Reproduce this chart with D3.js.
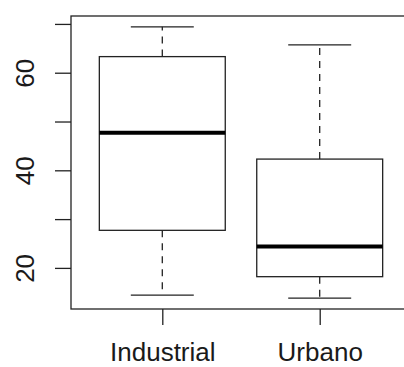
<!DOCTYPE html>
<html>
<head>
<meta charset="utf-8">
<script src="https://cdn.jsdelivr.net/npm/d3@7"></script>
<style>
  body { margin: 0; background: #fff; }
  svg { display: block; }
  text { font-family: "Liberation Sans", Arial, sans-serif; font-size: 26px; fill: #1a1a1a; }
</style>
</head>
<body>
<div id="chart"></div>
<script>
// groups and their five-number summaries
const groups = ["Industrial", "Urbano"]
const lowerWhisker = [14.4, 13.8]
const lowerQuartile = [27.7, 18.2]
const medians = [47.7, 24.4]
const upperQuartile = [63.3, 42.3]
const upperWhisker = [69.4, 65.7]
const yTicks = [20, 30, 40, 50, 60, 70]
const yLabels = [20, 40, 60]

const svgWidth = 404
const svgHeight = 367
const margin = { left: 71, top: 16, bottom: 58 }
const plotRight = 411
const height = svgHeight - margin.top - margin.bottom

const boxes = groups.map((g, i) => ({
  name: g, pos: i + 1,
  lo: lowerWhisker[i], q1: lowerQuartile[i], med: medians[i],
  q3: upperQuartile[i], hi: upperWhisker[i]
}))

// R style 4% extension of the range
let yMin = d3.min(lowerWhisker), yMax = d3.max(upperWhisker)
let ext = (yMax - yMin) * 0.04
var y = d3.scaleLinear()
  .domain([yMin - ext, yMax + ext])
  .range([height, 0])

var x = d3.scaleLinear()
  .domain([0.42, groups.length + 0.58])
  .range([0, plotRight - margin.left])

let svg = d3.select("#chart").append("svg")
  .attr("width", svgWidth)
  .attr("height", svgHeight)

let g = svg.append("g")
  .attr("transform", "translate(" + margin.left + ", " + margin.top + ")")

const ink = "#222"
const halfBox = x(1.4) - x(1)
const halfCap = x(1.2) - x(1)

let bx = g.selectAll(".box").data(boxes).enter().append("g").attr("class", "box")

// whiskers
bx.append("line")
  .attr("x1", d => x(d.pos)).attr("x2", d => x(d.pos))
  .attr("y1", d => y(d.q3)).attr("y2", d => y(d.hi))
  .attr("stroke", ink).attr("stroke-width", 1.3).attr("stroke-dasharray", "7,6")
bx.append("line")
  .attr("x1", d => x(d.pos)).attr("x2", d => x(d.pos))
  .attr("y1", d => y(d.q1)).attr("y2", d => y(d.lo))
  .attr("stroke", ink).attr("stroke-width", 1.3).attr("stroke-dasharray", "7,6")
// caps
bx.append("line")
  .attr("x1", d => x(d.pos) - halfCap).attr("x2", d => x(d.pos) + halfCap)
  .attr("y1", d => y(d.hi)).attr("y2", d => y(d.hi))
  .attr("stroke", ink).attr("stroke-width", 1.3)
bx.append("line")
  .attr("x1", d => x(d.pos) - halfCap).attr("x2", d => x(d.pos) + halfCap)
  .attr("y1", d => y(d.lo)).attr("y2", d => y(d.lo))
  .attr("stroke", ink).attr("stroke-width", 1.3)
// box
bx.append("rect")
  .attr("x", d => x(d.pos) - halfBox)
  .attr("width", 2 * halfBox)
  .attr("y", d => y(d.q3))
  .attr("height", d => y(d.q1) - y(d.q3))
  .attr("fill", "#fff").attr("stroke", ink).attr("stroke-width", 1.3)
// median
bx.append("line")
  .attr("x1", d => x(d.pos) - halfBox).attr("x2", d => x(d.pos) + halfBox)
  .attr("y1", d => y(d.med)).attr("y2", d => y(d.med))
  .attr("stroke", "#000").attr("stroke-width", 4)

// frame
g.append("rect")
  .attr("x", 0).attr("y", 0)
  .attr("width", plotRight - margin.left).attr("height", height)
  .attr("fill", "none").attr("stroke", ink).attr("stroke-width", 1.3)

//axes
var yAxisCall = d3.axisLeft(y)
  .tickValues(yTicks)
  .tickSize(16)
  .tickSizeOuter(0)
  .tickFormat(d => yLabels.includes(d) ? d : "")
let ya = g.append("g").attr("class", "y axis").call(yAxisCall)
ya.select(".domain").remove()
ya.selectAll("line").attr("stroke", ink).attr("stroke-width", 1.3)
ya.selectAll("text")
  .attr("transform", "rotate(-90)")
  .attr("x", 0).attr("y", -37.5).attr("dy", 0)
  .attr("text-anchor", "middle")
  .attr("fill", "#1a1a1a")

var xAxisCall = d3.axisBottom(x)
  .tickValues(boxes.map(d => d.pos))
  .tickSize(16)
  .tickSizeOuter(0)
  .tickFormat((d, i) => groups[i])
let xa = g.append("g").attr("class", "x axis")
  .attr("transform", "translate(0, " + height + ")")
  .call(xAxisCall)
xa.select(".domain").remove()
xa.selectAll("line").attr("stroke", ink).attr("stroke-width", 1.3)
xa.selectAll("text").attr("y", 52).attr("dy", 0).attr("fill", "#1a1a1a")
xa.selectAll("text").style("font-size", "26px")
ya.selectAll("text").style("font-size", "26px")
svg.selectAll(".axis").attr("font-family", null).attr("font-size", null)
</script>
</body>
</html>
